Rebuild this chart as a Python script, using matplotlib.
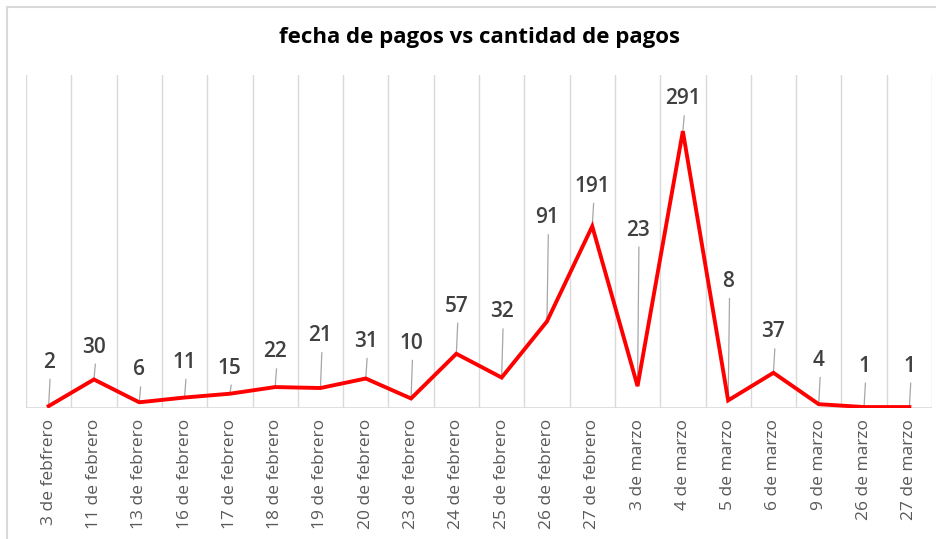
import matplotlib.pyplot as plt
from matplotlib.patches import Rectangle

fechas = ['3 de febfrero', '11 de febrero', '13 de febrero', '16 de febrero',
          '17 de febrero', '18 de febrero', '19 de febrero', '20 de febrero',
          '23 de febrero', '24 de febrero', '25 de febrero', '26 de febrero',
          '27 de febrero', '3 de marzo', '4 de marzo', '5 de marzo',
          '6 de marzo', '9 de marzo', '26 de marzo', '27 de marzo']
pagos = [2, 30, 6, 11, 15, 22, 21, 31, 10, 57, 32, 91, 191, 23, 291, 8, 37, 4, 1, 1]

# where the callout labels sit (data units)
label_y = [48, 64, 40, 48, 42, 59, 76, 70, 68, 107, 101, 200, 233, 187, 325, 133, 80, 50, 44, 44]

plt.rcParams['font.family'] = ['Open Sans', 'DejaVu Sans']

fig = plt.figure(figsize=(9.36, 5.39), dpi=100)

# chart frame
fig.patches.append(Rectangle((7 / 936, -0.1), 1.1, 1 - 7 / 539 + 0.1, transform=fig.transFigure,
                             fill=False, edgecolor='#d9d9d9', linewidth=1.5))

ax = fig.add_axes([26 / 936, 1 - 408 / 539, 906 / 936, 333 / 539])
x = list(range(len(fechas)))

for i in range(len(fechas) + 1):
    ax.axvline(i - 0.5, color='#d9d9d9', linewidth=1, zorder=0)
ax.axhline(0, color='#d9d9d9', linewidth=1.2, zorder=0)

ax.plot(x, pagos, color='#ff0000', linewidth=2.8, zorder=3, solid_joinstyle='miter')

for xi, v, ly in zip(x, pagos, label_y):
    top = ly - 18
    if top > v:
        ax.plot([xi + 0.03, xi], [top, v], color='#a6a6a6', linewidth=0.9, zorder=2)
    ax.text(xi, ly, str(v), ha='center', va='center', fontsize=15, fontweight='semibold',
            color='#404040')

ax.set_xlim(-0.5, len(fechas) - 0.5)
ax.set_ylim(0, 350)
ax.set_xticks(x)
ax.set_xticklabels(fechas, rotation=90, fontsize=12.5, color='#595959')
ax.tick_params(axis='x', length=0, pad=8)
ax.set_yticks([])
for s in ax.spines.values():
    s.set_visible(False)

fig.text(480 / 936, 1 - 38 / 539, 'fecha de pagos vs cantidad de pagos', ha='center', va='center',
         fontsize=16, fontweight='bold', color='#000000')

fig.savefig('out.png', dpi=100)
